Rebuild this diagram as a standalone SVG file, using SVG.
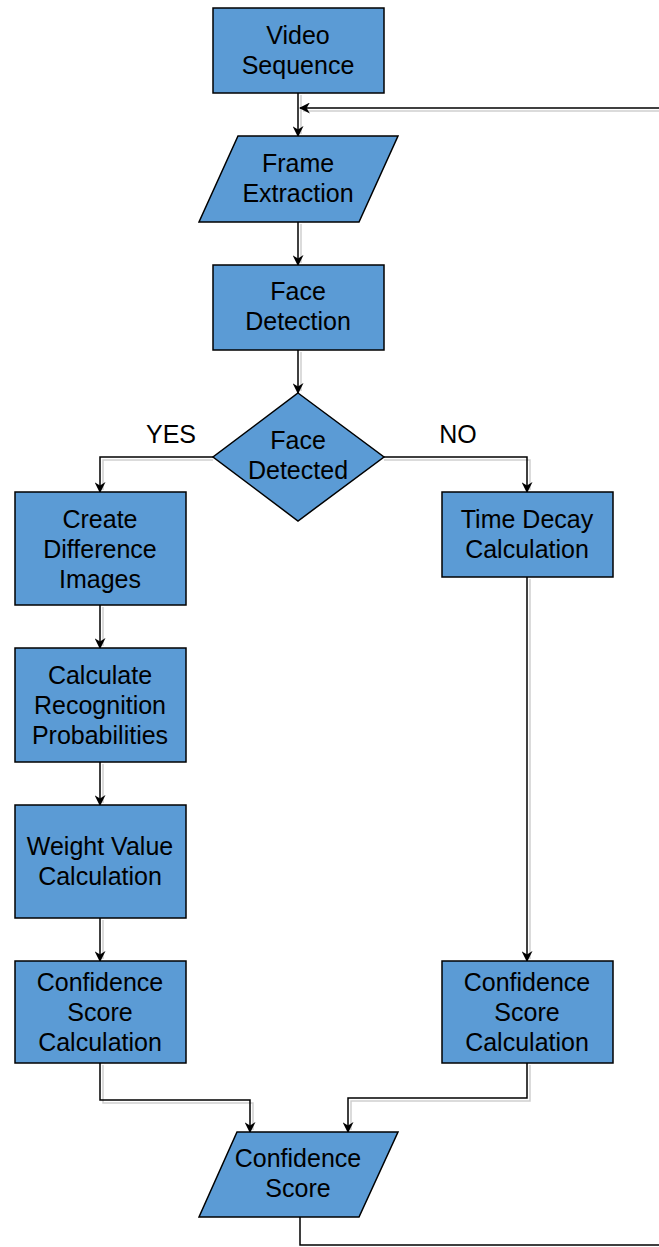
<svg xmlns="http://www.w3.org/2000/svg" width="659" height="1247" viewBox="0 0 659 1247">
<style>
.n{fill:#5B9BD5;stroke:#000;stroke-width:1.5}
.t{font-family:"Liberation Sans",Arial,sans-serif;font-size:25px;fill:#000;text-anchor:middle}
.c{fill:none;stroke:#000;stroke-width:1.5}
.s{fill:none;stroke:#cfcfcf;stroke-width:1.5}
</style>
<defs>
<marker id="a" viewBox="0 0 10 10" refX="9" refY="5" markerWidth="11" markerHeight="11" markerUnits="userSpaceOnUse" orient="auto">
<path d="M0,0 L10,5 L0,10 L3,5 Z" fill="#000"/>
</marker>
</defs>
<g id="connectors">
<g class="shadow">
<path class="s" d="M301,95 V134"/>
<path class="s" d="M301,224 V263"/>
<path class="s" d="M301,352 V391"/>
<path class="s" d="M213,460 H103 V490"/>
<path class="s" d="M384,460 H530 V490"/>
<path class="s" d="M103,607 V646"/>
<path class="s" d="M103,764 V803"/>
<path class="s" d="M103,920 V959"/>
<path class="s" d="M530,579 V959"/>
<path class="s" d="M103,1065 V1103 H253 V1130"/>
<path class="s" d="M530,1065 V1101 H351 V1130"/>
<path class="s" d="M659,111 H303"/>
</g>
<path class="c" d="M298,93 V136" marker-end="url(#a)"/>
<path class="c" d="M298,222 V265" marker-end="url(#a)"/>
<path class="c" d="M298,350 V393" marker-end="url(#a)"/>
<path class="c" d="M213,457 H100 V492" marker-end="url(#a)"/>
<path class="c" d="M384,457 H527 V492" marker-end="url(#a)"/>
<path class="c" d="M100,605 V648" marker-end="url(#a)"/>
<path class="c" d="M100,762 V805" marker-end="url(#a)"/>
<path class="c" d="M100,918 V961" marker-end="url(#a)"/>
<path class="c" d="M527,577 V961" marker-end="url(#a)"/>
<path class="c" d="M100,1063 V1100 H250 V1132" marker-end="url(#a)"/>
<path class="c" d="M527,1063 V1098 H348 V1132" marker-end="url(#a)"/>
<path class="c" d="M300,1217 V1245 H659"/>
<path class="c" d="M659,108 H300" marker-end="url(#a)"/>
<text class="t" x="171" y="443">YES</text>
<text class="t" x="458" y="443">NO</text>
</g>
<g id="video-sequence">
<rect class="n" x="213" y="8" width="171" height="85"/>
<text class="t" x="298" y="44">Video</text>
<text class="t" x="298" y="74">Sequence</text>
</g>
<g id="frame-extraction">
<polygon class="n" points="238,136 398,136 359,222 199,222"/>
<text class="t" x="298" y="172">Frame</text>
<text class="t" x="298" y="202">Extraction</text>
</g>
<g id="face-detection">
<rect class="n" x="213" y="265" width="171" height="85"/>
<text class="t" x="298" y="300">Face</text>
<text class="t" x="298" y="330">Detection</text>
</g>
<g id="face-detected">
<polygon class="n" points="298,393 384,457 298,521 213,457"/>
<text class="t" x="298" y="449">Face</text>
<text class="t" x="298" y="479">Detected</text>
</g>
<g id="create-difference-images">
<rect class="n" x="15" y="492" width="171" height="113"/>
<text class="t" x="100" y="528">Create</text>
<text class="t" x="100" y="558">Difference</text>
<text class="t" x="100" y="588">Images</text>
</g>
<g id="calculate-recognition">
<rect class="n" x="15" y="648" width="171" height="114"/>
<text class="t" x="100" y="684">Calculate</text>
<text class="t" x="100" y="714">Recognition</text>
<text class="t" x="100" y="744">Probabilities</text>
</g>
<g id="weight-value">
<rect class="n" x="15" y="805" width="171" height="113"/>
<text class="t" x="100" y="855">Weight Value</text>
<text class="t" x="100" y="885">Calculation</text>
</g>
<g id="confidence-left">
<rect class="n" x="15" y="961" width="171" height="102"/>
<text class="t" x="100" y="991">Confidence</text>
<text class="t" x="100" y="1021">Score</text>
<text class="t" x="100" y="1051">Calculation</text>
</g>
<g id="time-decay">
<rect class="n" x="442" y="492" width="171" height="85"/>
<text class="t" x="527" y="528">Time Decay</text>
<text class="t" x="527" y="558">Calculation</text>
</g>
<g id="confidence-right">
<rect class="n" x="442" y="961" width="171" height="102"/>
<text class="t" x="527" y="991">Confidence</text>
<text class="t" x="527" y="1021">Score</text>
<text class="t" x="527" y="1051">Calculation</text>
</g>
<g id="confidence-score">
<polygon class="n" points="237,1132 398,1132 359,1217 199,1217"/>
<text class="t" x="298" y="1167">Confidence</text>
<text class="t" x="298" y="1197">Score</text>
</g>
</svg>
